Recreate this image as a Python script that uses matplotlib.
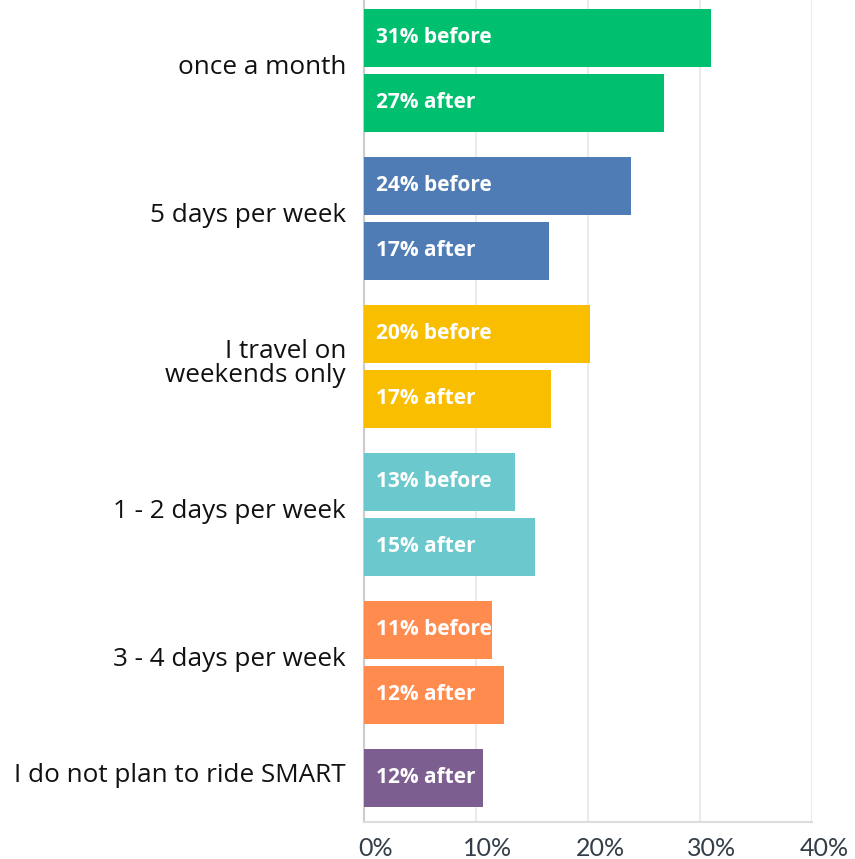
import numpy as np
import matplotlib
matplotlib.use("Agg")
import matplotlib.pyplot as plt
from matplotlib.transforms import ScaledTranslation

# data
categories = ["once a month", "5 days per week", "I travel on\nweekends only",
              "1 - 2 days per week", "3 - 4 days per week", "I do not plan to ride SMART"]
before = [31.0, 23.8, 20.2, 13.5, 11.4, None]
after = [26.8, 16.5, 16.7, 15.3, 12.5, 10.6]
before_lbl = ["31%", "24%", "20%", "13%", "11%", None]
after_lbl = ["27%", "17%", "17%", "15%", "12%", "12%"]
colors = ["#00BF6F", "#507CB6", "#F9BE00", "#6BC8CD", "#FF8B4F", "#7D5E90"]
ticks = [0, 10, 20, 30, 40]

fig = plt.figure(figsize=(8.55, 8.59), dpi=100)
ax = fig.add_axes([364 / 855, 1 - 822 / 859, (812 - 364) / 855, 822 / 859])

bar_h = 58
pitch = 64.5
group_pitch = 148
top0 = 9

for g, cat in enumerate(categories):
    slot = 0
    ys = []
    for val, lbl, word in ((before[g], before_lbl[g], "before"), (after[g], after_lbl[g], "after")):
        if val is None:
            continue
        y = top0 + g * group_pitch + slot * pitch + bar_h / 2
        ax.barh(y, val, height=bar_h, color=colors[g], zorder=3)
        ax.text(1.05, y - 0.5, f"{lbl} {word}", color="white", fontsize=15, fontweight="bold",
                family="Open Sans", va="center", ha="left", zorder=4)
        ys.append(y)
        slot += 1
    yc = np.mean(ys)
    ax.text(-0.04, yc - 3, cat, transform=ax.get_yaxis_transform(), ha="right", va="center",
            fontsize=18.8, family="Open Sans", color="#111111", linespacing=0.95)

ax.set_xlim(0, 40)
ax.set_ylim(822, 0)
ax.set_xticks(ticks)
ax.set_xticklabels([f"{t}%" for t in ticks], fontsize=18, family="Lato", color="#333E48")
ax.set_yticks([])
ax.tick_params(axis="x", length=0, pad=11)
for lab in ax.get_xticklabels():
    lab.set_transform(lab.get_transform() + ScaledTranslation(12 / 100, 0, fig.dpi_scale_trans))

ax.grid(axis="x", color="#EBEBEB", linewidth=1.5, zorder=0)
for s in ["top", "right"]:
    ax.spines[s].set_visible(False)
ax.spines["left"].set_color("#CCCCCC")
ax.spines["left"].set_linewidth(1.5)
ax.spines["bottom"].set_color("#DDDDDD")
ax.spines["bottom"].set_linewidth(1.5)

fig.savefig("out.png", dpi=100)
